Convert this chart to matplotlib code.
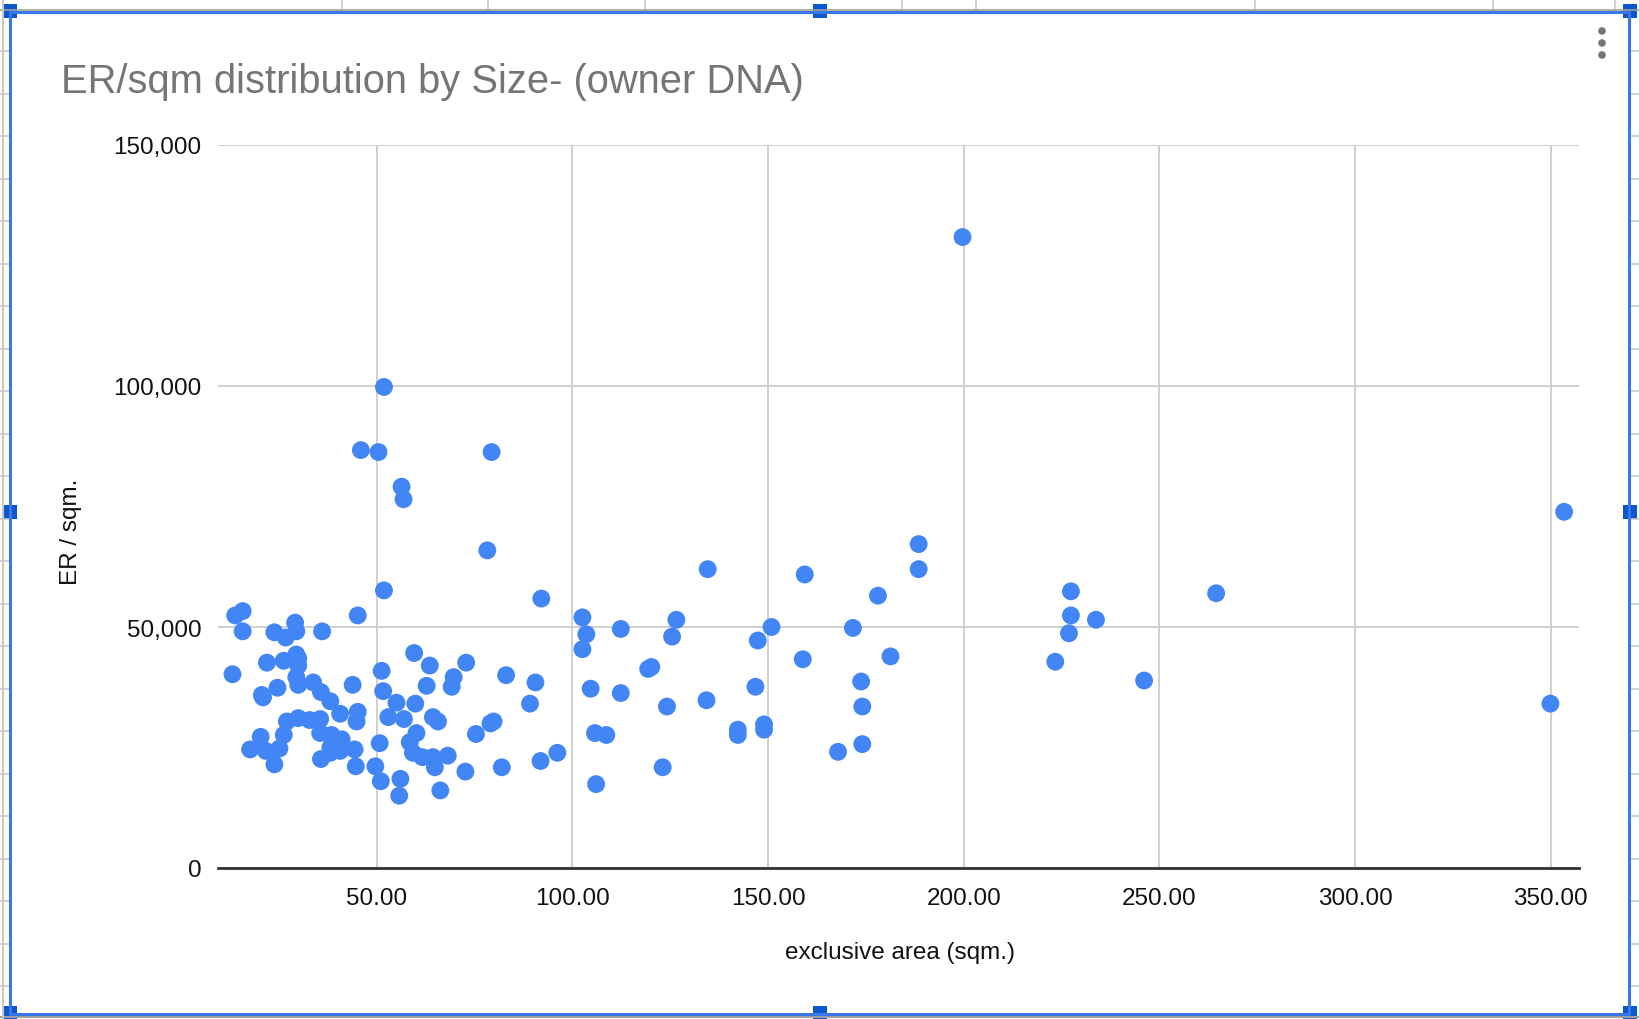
import matplotlib
matplotlib.use("Agg")
import matplotlib.pyplot as plt
from matplotlib.ticker import FuncFormatter, FixedLocator
from matplotlib.lines import Line2D
from matplotlib.patches import Rectangle, Circle

plt.rcParams['font.family'] = ['Liberation Sans', 'DejaVu Sans']

title = "ER/sqm distribution by Size- (owner DNA)"
x_label = "exclusive area (sqm.)"
y_label = "ER / sqm."

area = [199.7, 51.9, 46.0, 50.5, 79.4, 56.4, 56.9, 78.3, 353.4, 188.5,
        188.5, 134.6, 159.4, 227.4, 264.5, 178.1, 92.1, 51.9, 45.2, 13.9,
        15.8, 15.8, 227.4, 233.8, 102.6, 126.6, 103.6, 112.4, 125.5, 150.9,
        171.7, 147.4, 226.9, 102.6, 29.2, 23.9, 26.8, 29.5, 36.1, 59.6,
        29.5, 30.0, 13.2, 22.0, 26.3, 30.0, 51.3, 63.6, 72.9, 83.1,
        69.7, 158.9, 181.3, 223.4, 120.2, 119.4, 29.5, 30.0, 33.8, 43.9,
        62.8, 69.2, 90.6, 104.7, 146.8, 173.8, 246.1, 20.7, 21.0, 24.7,
        35.8, 38.2, 55.1, 59.9, 112.4, 89.2, 134.3, 124.2, 174.1, 349.9,
        27.1, 30.0, 32.9, 35.6, 40.7, 45.2, 44.9, 53.0, 57.0, 64.4,
        65.7, 79.1, 79.9, 75.4, 20.4, 26.3, 35.6, 38.5, 41.1, 60.2,
        105.8, 108.7, 142.3, 142.3, 149.0, 149.0, 17.7, 21.7, 25.2, 38.2,
        40.7, 44.4, 50.8, 58.5, 59.3, 61.7, 64.4, 68.2, 35.8, 38.2,
        23.9, 44.7, 49.7, 64.9, 72.7, 82.0, 91.9, 96.2, 123.1, 167.9,
        174.1, 51.1, 56.1, 106.1, 55.8, 66.3, 51.7]

er = [130900, 99800, 86700, 86300, 86300, 79100, 76500, 65900, 73900, 67200,
      62000, 62000, 60900, 57400, 57000, 56500, 55900, 57600, 52400, 52400,
      53300, 49100, 52400, 51500, 52000, 51500, 48500, 49600, 48000, 50000,
      49800, 47200, 48700, 45400, 50900, 48900, 47800, 49100, 49100, 44600,
      44300, 43500, 40200, 42600, 43000, 42000, 40900, 42000, 42600, 40000,
      39600, 43300, 43900, 42800, 41700, 41300, 39600, 38000, 38500, 38000,
      37800, 37600, 38500, 37200, 37600, 38700, 38900, 35900, 35400, 37400,
      36500, 34600, 34300, 34100, 36300, 34100, 34800, 33500, 33500, 34100,
      30400, 31100, 30700, 30900, 32000, 32400, 30400, 31300, 30900, 31300,
      30400, 30000, 30400, 27800, 27200, 27600, 28000, 27600, 26700, 28000,
      28000, 27600, 28700, 27600, 29800, 28700, 24600, 24300, 24800, 25000,
      24300, 24600, 25900, 26100, 23900, 23000, 23000, 23300, 22600, 23900,
      21500, 21100, 21100, 20900, 20000, 20900, 22200, 23900, 20900, 24100,
      25700, 18000, 18500, 17400, 15000, 16100, 36700]

x_ticks = [50, 100, 150, 200, 250, 300, 350]
y_ticks = [0, 50000, 100000, 150000]

W, H = 1640, 1020
fig = plt.figure(figsize=(W / 100, H / 100), dpi=100)
fig.patch.set_facecolor('white')

# plot area in pixels
L, R, T, B = 218, 1579, 146, 869
ax = fig.add_axes([L / W, (H - B) / H, (R - L) / W, (B - T) / H])
ax.set_facecolor('white')

ax.scatter(area, er, s=165, color='#4285F4', edgecolors='none', zorder=3, clip_on=False)

ax.set_xlim(9.5, 357.2)
ax.set_ylim(0, 150000)
ax.xaxis.set_major_locator(FixedLocator(x_ticks))
ax.yaxis.set_major_locator(FixedLocator(y_ticks))
ax.xaxis.set_major_formatter(FuncFormatter(lambda v, p: f"{v:.2f}"))
ax.yaxis.set_major_formatter(FuncFormatter(lambda v, p: f"{int(v):,}"))
ax.grid(True, color='#cccccc', linewidth=1.3, zorder=0)
ax.set_axisbelow(True)
for s in ['top', 'right', 'left']:
    ax.spines[s].set_visible(False)
ax.spines['bottom'].set_color('#333333')
ax.spines['bottom'].set_linewidth(2)
ax.spines['bottom'].set_zorder(2)
ax.tick_params(axis='both', length=0, labelsize=17.5, colors='#111111')
ax.tick_params(axis='x', pad=14)
ax.tick_params(axis='y', pad=12)

fig.text(61 / W, 1 - 93 / H, title, fontsize=28.7, color='#757575', ha='left', va='baseline')
fig.text(900 / W, 1 - 953 / H, x_label, fontsize=17.5, color='#111111', ha='center', va='center')
fig.text(71 / W, 1 - 532 / H, y_label, fontsize=17.5, color='#111111', ha='center', va='center', rotation=90)

# overlay for sheet decorations
ov = fig.add_axes([0, 0, 1, 1], zorder=10)
ov.set_xlim(0, W)
ov.set_ylim(H, 0)
ov.axis('off')
ov.patch.set_alpha(0)

gray = '#c8c8c8'
# spreadsheet cell lines in margins
for yy in [52, 95, 137, 180, 222, 265, 307, 350, 392, 435, 477, 520, 562, 605, 647, 690, 732, 775, 817, 860, 902, 945, 987]:
    ov.add_line(Line2D([0, 8], [yy, yy], color=gray, lw=1.2))
    ov.add_line(Line2D([1632, 1640], [yy, yy], color=gray, lw=1.2))
for xx in [342, 488, 645, 902, 976, 1255, 1493, 1615]:
    ov.add_line(Line2D([xx, xx], [0, 10], color=gray, lw=1.2))
ov.add_line(Line2D([0, W], [10.5, 10.5], color='#a0a0a0', lw=1.2))
ov.add_line(Line2D([0, W], [1018, 1018], color='#a0a0a0', lw=1.5))
ov.add_line(Line2D([3, 3], [0, H], color=gray, lw=1.5))

blue = '#3b78e7'
ov.add_line(Line2D([10, 1629], [12.5, 12.5], color=blue, lw=2.2))
ov.add_line(Line2D([10, 1629], [1015, 1015], color=blue, lw=2.2))
ov.add_line(Line2D([10, 10], [12.5, 1015], color=blue, lw=2.2))
ov.add_line(Line2D([1629, 1629], [12.5, 1015], color=blue, lw=2.2))
for hx, hy in [(10, 12), (820, 12), (1630, 12), (10, 513), (1630, 513), (10, 1014), (820, 1014), (1630, 1014)]:
    ov.add_patch(Rectangle((hx - 9.5, hy - 9.5), 19, 19, facecolor='white', edgecolor='none'))
    ov.add_patch(Rectangle((hx - 7, hy - 7), 14, 14, facecolor='#0b57d0', edgecolor='none'))

for cy in [32, 44, 56]:
    ov.add_patch(Circle((1602, cy), 3.8, facecolor='#757575', edgecolor='none'))

fig.savefig('out.png', dpi=100)
